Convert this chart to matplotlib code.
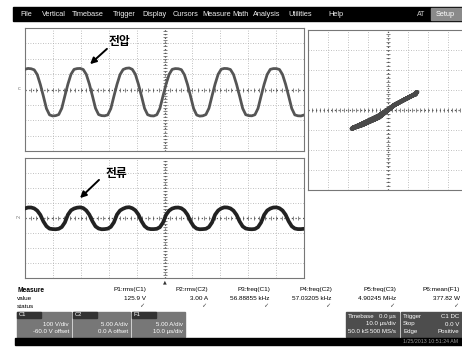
import numpy as np
import matplotlib
matplotlib.use('Agg')
import matplotlib.pyplot as plt
from matplotlib.patches import Rectangle

# figure size in pixels
W, H = 462, 347

# --- data (divisions, 16 samples per period) ---
# C1 voltage, top panel
volt = [1.32, 1.37, 1.35, 1.28, 0.97, 0.33, -0.44, -1.24, -1.65, -1.72, -1.70, -1.63, -1.22, -0.42, 0.35, 0.99,
        1.31, 1.36, 1.37, 1.30, 0.98, 0.35, -0.42, -1.22, -1.63, -1.70, -1.71, -1.65, -1.24, -0.44, 0.33, 0.97,
        1.30, 1.38, 1.40, 1.31, 0.99, 0.34, -0.43, -1.23, -1.64, -1.71, -1.72, -1.64, -1.23, -0.43, 0.34, 0.98,
        1.31, 1.36, 1.35, 1.29, 0.96, 0.33, -0.44, -1.24, -1.66, -1.73, -1.71, -1.63, -1.22, -0.42, 0.35, 0.99,
        1.32, 1.37, 1.36, 1.30, 0.98, 0.34, -0.43, -1.23, -1.64, -1.70, -1.71, -1.64, -1.23, -0.43, 0.34, 0.98,
        1.31, 1.36, 1.36, 1.30, 0.97, 0.34, -0.43, -1.23, -1.65, -1.71, -1.72, -1.66]
# C2 current, bottom panel
curr = [0.64, 0.70, 0.70, 0.64, 0.49, 0.21, -0.23, -0.55, -0.71, -0.74, -0.75, -0.72, -0.60, -0.30, 0.22, 0.51,
        0.63, 0.69, 0.71, 0.66, 0.50, 0.22, -0.22, -0.56, -0.70, -0.75, -0.74, -0.71, -0.59, -0.29, 0.23, 0.50,
        0.62, 0.70, 0.72, 0.65, 0.51, 0.23, -0.21, -0.54, -0.70, -0.74, -0.74, -0.72, -0.61, -0.31, 0.21, 0.49,
        0.63, 0.69, 0.70, 0.65, 0.50, 0.22, -0.22, -0.55, -0.71, -0.75, -0.74, -0.72, -0.60, -0.30, 0.22, 0.50,
        0.64, 0.71, 0.70, 0.64, 0.49, 0.21, -0.23, -0.56, -0.70, -0.74, -0.75, -0.73, -0.61, -0.30, 0.21, 0.50,
        0.63, 0.70, 0.71, 0.65, 0.50, 0.22, -0.22, -0.55, -0.70, -0.74, -0.74, -0.72]
t = np.linspace(-50, 50, len(volt))  # us, 10 us/div

menu_items = ['File', 'Vertical', 'Timebase', 'Trigger', 'Display', 'Cursors', 'Measure', 'Math',
              'Analysis', 'Utilities', 'Help']
menu_x = [20, 42, 72, 113, 142, 173, 202, 232, 253, 288, 328]

meas_names = ['P1:rms(C1)', 'P2:rms(C2)', 'P3:freq(C1)', 'P4:freq(C2)', 'P5:freq(C3)', 'P6:mean(F1)']
meas_values = ['125.9 V', '3.00 A', '56.88855 kHz', '57.03205 kHz', '4.90245 MHz', '377.82 W']
meas_x = [146, 208, 270, 332, 396, 460]


def rect(x0, y0, x1, y1):
    return [x0 / W, 1 - y1 / H, (x1 - x0) / W, (y1 - y0) / H]


def fx(x):
    return x / W


def fy(y):
    return 1 - y / H


def scope_grid(ax, nx, ny):
    for i in range(1, nx):
        f = i / nx
        centre = (i == nx // 2)
        ax.plot([f, f], [0, 1], transform=ax.transAxes, ls=(0, (1, 2)),
                color='#555555' if centre else '#acacac', lw=0.9 if centre else 0.6, zorder=1)
    for j in range(1, ny):
        f = j / ny
        centre = (j == ny // 2)
        ax.plot([0, 1], [f, f], transform=ax.transAxes, ls=(0, (1, 2)),
                color='#555555' if centre else '#acacac', lw=0.9 if centre else 0.6, zorder=1)
    # small ticks on the centre cross
    tx = np.arange(0, 1.0001, 1 / (nx * 5))
    ax.plot(tx, np.full(len(tx), 0.5), transform=ax.transAxes, ls='none', marker='|',
            ms=2.5, mew=0.5, color='#555555', zorder=1)
    ty = np.arange(0, 1.0001, 1 / (ny * 5))
    ax.plot(np.full(len(ty), 0.5), ty, transform=ax.transAxes, ls='none', marker='_',
            ms=2.5, mew=0.5, color='#555555', zorder=1)
    ax.set_xticks([])
    ax.set_yticks([])
    for s in ax.spines.values():
        s.set_color('#777777')
        s.set_linewidth(0.8)


fig = plt.figure(figsize=(W / 100, H / 100), dpi=100)
fig.patch.set_facecolor('white')
sans = ['Liberation Sans', 'DejaVu Sans']
kor = ['Noto Sans CJK KR', 'DejaVu Sans']

# menu bar
fig.patches.append(Rectangle((fx(13), fy(21)), fx(462) - fx(13), fy(7) - fy(21),
                             transform=fig.transFigure, color='black'))
for name, x in zip(menu_items, menu_x):
    fig.text(fx(x), fy(14.5), name, color='#eeeeee', fontsize=5.3, family=sans, va='center')
fig.text(fx(417), fy(14.5), 'AT', color='#cccccc', fontsize=5, family=sans, va='center')
fig.patches.append(Rectangle((fx(431), fy(20)), fx(462) - fx(431), fy(8) - fy(20),
                             transform=fig.transFigure, color='#8a8a8a'))
fig.text(fx(436), fy(14.5), 'Setup', color='white', fontsize=5.3, family=sans, va='center')

# top panel: voltage
ax1 = fig.add_axes(rect(25, 28, 304, 151))
scope_grid(ax1, 10, 8)
ax1.plot(t, volt, color='#555555', lw=2.0, zorder=3)
ax1.set_xlim(-50, 50)
ax1.set_ylim(-4, 4)

# bottom panel: current
ax2 = fig.add_axes(rect(25, 158, 304, 278))
scope_grid(ax2, 10, 8)
ax2.plot(t, curr, color='#222222', lw=2.7, zorder=3)
ax2.set_xlim(-50, 50)
ax2.set_ylim(-4, 4)

# XY panel: current against voltage
ax3 = fig.add_axes(rect(308, 30, 468, 190))
scope_grid(ax3, 8, 8)
ax3.plot(volt, curr, color='#4a4a4a', lw=2.8, zorder=3)
ax3.set_xlim(-3.8, 3.8)
ax3.set_ylim(-3.2, 3.2)

# channel markers and trigger marker
fig.text(fx(19), fy(88), 'c', color='#777777', fontsize=4, family=sans, va='center', ha='center')
fig.text(fx(19), fy(216), '2', color='#777777', fontsize=4, family=sans, va='center', ha='center',
         rotation=90)
fig.text(fx(165), fy(282), '\u25b2', color='#333333', fontsize=3.5, ha='center', va='center')

# Korean labels with arrows
fig.text(fx(109), fy(41), '전압', fontsize=8.5, family=kor, weight='bold', va='center')
fig.text(fx(106), fy(174), '전류', fontsize=8.5, family=kor, weight='bold', va='center')
arrow = dict(arrowstyle='-|>', lw=1.4, color='black', mutation_scale=9)
ax1.annotate('', xy=(fx(88), fy(66)), xytext=(fx(109), fy(47)),
             xycoords='figure fraction', textcoords='figure fraction', arrowprops=arrow)
ax2.annotate('', xy=(fx(78), fy(200)), xytext=(fx(101), fy(178)),
             xycoords='figure fraction', textcoords='figure fraction', arrowprops=arrow)

# measurement table
fig.text(fx(17), fy(290), 'Measure', fontsize=4.8, family=sans, weight='bold', va='center')
fig.text(fx(17), fy(298), 'value', fontsize=4.6, family=sans, va='center')
fig.text(fx(17), fy(306), 'status', fontsize=4.6, family=sans, va='center')
for name, val, x in zip(meas_names, meas_values, meas_x):
    fig.text(fx(x), fy(290), name, fontsize=4.6, family=sans, va='center', ha='right')
    fig.text(fx(x), fy(298), val, fontsize=4.6, family=sans, va='center', ha='right')
    fig.text(fx(x - 2), fy(306), '\u2713', fontsize=4.5, family='DejaVu Sans', va='center', ha='right',
             color='#444444')

# channel boxes
boxes = [(17, 71, 'C1', '100 V/div', '-60.0 V offset'),
         (73, 130, 'C2', '5.00 A/div', '0.0 A offset'),
         (132, 185, 'F1', '5.00 A/div', '10.0 \u00b5s/div')]
for x0, x1, lab, l1, l2 in boxes:
    fig.patches.append(Rectangle((fx(x0), fy(337)), fx(x1) - fx(x0), fy(312) - fy(337),
                                 transform=fig.transFigure, color='#777777'))
    fig.patches.append(Rectangle((fx(x0), fy(318)), fx(x0 + 24) - fx(x0), fy(312) - fy(318),
                                 transform=fig.transFigure, color='#333333'))
    fig.text(fx(x0 + 2), fy(315), lab, color='white', fontsize=4.2, family=sans, va='center')
    fig.text(fx(x1 - 2), fy(324), l1, color='white', fontsize=4.4, family=sans, va='center', ha='right')
    fig.text(fx(x1 - 2), fy(331.5), l2, color='white', fontsize=4.4, family=sans, va='center', ha='right')

# timebase and trigger boxes
tb = [(346, 399, [('Timebase', '0.0 \u00b5s'), ('', '10.0 \u00b5s/div'), ('50.0 kS', '500 MS/s')]),
      (401, 462, [('Trigger', 'C1 DC'), ('Stop', '0.0 V'), ('Edge', 'Positive')])]
for x0, x1, rows in tb:
    fig.patches.append(Rectangle((fx(x0), fy(337)), fx(x1) - fx(x0), fy(312) - fy(337),
                                 transform=fig.transFigure, color='#4d4d4d'))
    for k, (left, right) in enumerate(rows):
        yy = 316.5 + k * 7.5
        fig.text(fx(x0 + 2), fy(yy), left, color='white', fontsize=4.4, family=sans, va='center')
        fig.text(fx(x1 - 3), fy(yy), right, color='white', fontsize=4.4, family=sans, va='center',
                 ha='right')

# bottom bar
fig.patches.append(Rectangle((fx(15), fy(345)), fx(462) - fx(15), fy(338) - fy(345),
                             transform=fig.transFigure, color='black'))
fig.text(fx(458), fy(341.5), '1/25/2013 10:51:24 AM', color='#999999', fontsize=3.8, family=sans,
         va='center', ha='right')

fig.savefig('out.png', dpi=100)
